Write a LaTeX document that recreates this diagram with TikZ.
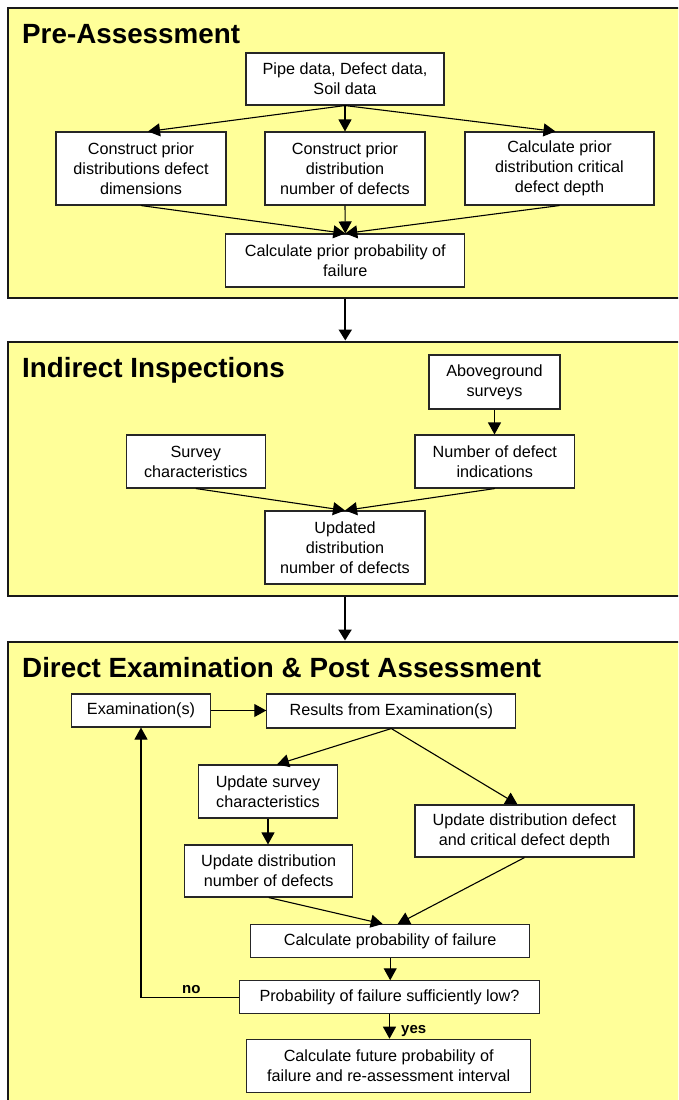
\documentclass[tikz,border=0pt]{standalone}
\usepackage{fontspec}
\setmainfont{Liberation Sans}
\usetikzlibrary{arrows.meta,calc}
\definecolor{panelyellow}{RGB}{255,255,153}
\tikzset{
  panel/.style={draw=black!90, line width=2pt, fill=panelyellow},
  box/.style={draw=black!85, line width=1.1pt, fill=white, align=center, inner sep=0pt,
    font=\fontsize{16.2}{20}\selectfont},
  title/.style={anchor=base west, inner sep=0pt, font=\fontsize{27.8}{33}\selectfont\bfseries},
  lbl/.style={anchor=base west, inner sep=0pt, font=\fontsize{15}{18}\selectfont\bfseries},
  arr/.style={line width=1.1pt, -{Triangle[length=12pt,width=13pt]}},
  bigarr/.style={line width=2.2pt, -{Triangle[length=11pt,width=13pt]}},
}
\begin{document}
\begin{tikzpicture}[x=1pt,y=-1pt]
\useasboundingbox (0,0) rectangle (678,1100);
\clip (0,0) rectangle (678,1100);
% panels
\node[panel, minimum width=690pt, minimum height=290pt, anchor=north west, inner sep=0pt] (P1) at (6.5,6.5) {};
\node[panel, minimum width=690pt, minimum height=254pt, anchor=north west, inner sep=0pt] (P2) at (6.5,340.5) {};
\node[panel, minimum width=690pt, minimum height=480pt, anchor=north west, inner sep=0pt] (P3) at (6.5,640.5) {};
% titles
\node[title] (T1) at (22,43) {Pre-Assessment};
\node[title] (T2) at (22,377) {Indirect Inspections};
\node[title] (T3) at (22,677) {Direct Examination \& Post Assessment};
% panel 1
\node[box, minimum width=198pt, minimum height=52pt] (A) at (345,79) {Pipe data, Defect data,\\Soil data};
\node[box, minimum width=170pt, minimum height=73pt] (B1) at (141,168.5) {Construct prior\\distributions defect\\dimensions};
\node[box, minimum width=160pt, minimum height=73pt] (B2) at (345,168.5) {Construct prior\\distribution\\number of defects};
\node[box, minimum width=189pt, minimum height=73pt] (B3) at (559.5,168.5) {Calculate prior\\distribution critical\\defect depth};
\node[box, minimum width=239pt, minimum height=53pt] (C) at (345.3,260.5) {Calculate prior probability of\\failure};
\draw[arr] (A.south) -- ([xshift=7pt]B1.north);
\draw[arr] (A.south) -- (B2.north);
\draw[arr] (A.south) -- ([xshift=-4pt]B3.north);
\draw[arr] (B1.south) -- (C.north);
\draw[arr] (B2.south) -- (C.north);
\draw[arr] (B3.south) -- (C.north);
% panel 2
\node[box, minimum width=131pt, minimum height=54pt] (AG) at (494.5,382) {Aboveground\\surveys};
\node[box, minimum width=139.5pt, minimum height=53pt] (SC) at (195.8,461.5) {Survey\\characteristics};
\node[box, minimum width=159.6pt, minimum height=53pt] (ND) at (494.8,461.5) {Number of defect\\indications};
\node[box, minimum width=160pt, minimum height=73pt] (UD) at (345,547.5) {Updated\\distribution\\number of defects};
\draw[arr] (AG.south) -- (AG.south |- ND.north);
\draw[arr] (SC.south) -- (UD.north);
\draw[arr] (ND.south) -- (UD.north);
% panel 3
\node[box, minimum width=139pt, minimum height=33pt] (E) at (141,710.5) {Examination(s)};
\node[box, minimum width=249pt, minimum height=34pt] (R) at (391.3,711) {Results from Examination(s)};
\node[box, minimum width=139pt, minimum height=53pt] (US) at (268,791.5) {Update survey\\characteristics};
\node[box, minimum width=219pt, minimum height=52pt] (UDD) at (524.5,831) {Update distribution defect\\and critical defect depth};
\node[box, minimum width=168pt, minimum height=52pt] (UDN) at (268.7,871) {Update distribution\\number of defects};
\node[box, minimum width=279pt, minimum height=33pt] (CP) at (390.2,941) {Calculate probability of failure};
\node[box, minimum width=300pt, minimum height=33pt] (PL) at (389.5,997.3) {Probability of failure sufficiently low?};
\node[box, minimum width=283.6pt, minimum height=53.5pt] (CF) at (388.7,1066) {Calculate future probability of\\failure and re-assessment interval};
\draw[arr] (E.east) -- (E.east -| R.west);
\draw[arr] (R.south) -- ([xshift=9pt]US.north);
\draw[arr] (R.south) -- ([xshift=-7pt]UDD.north);
\draw[arr] (US.south) -- (US.south |- UDN.north);
\draw[arr] (UDN.south) -- ([xshift=-7.5pt]CP.north);
\draw[arr] (UDD.south) -- ([xshift=7.5pt]CP.north);
\draw[arr] (CP.south) -- (CP.south |- PL.north);
\draw[arr] (PL.south) -- (PL.south |- CF.north);
\draw[arr] (PL.west) -| (E.south);
\node[lbl] (no) at (182,993) {no};
\node[lbl] (yes) at (401,1033) {yes};
% inter-panel arrows
\draw[bigarr] (C.south |- P1.south) -- (C.south |- P2.north);
\draw[bigarr] (UD.south |- P2.south) -- (UD.south |- P3.north);
\end{tikzpicture}
\end{document}
